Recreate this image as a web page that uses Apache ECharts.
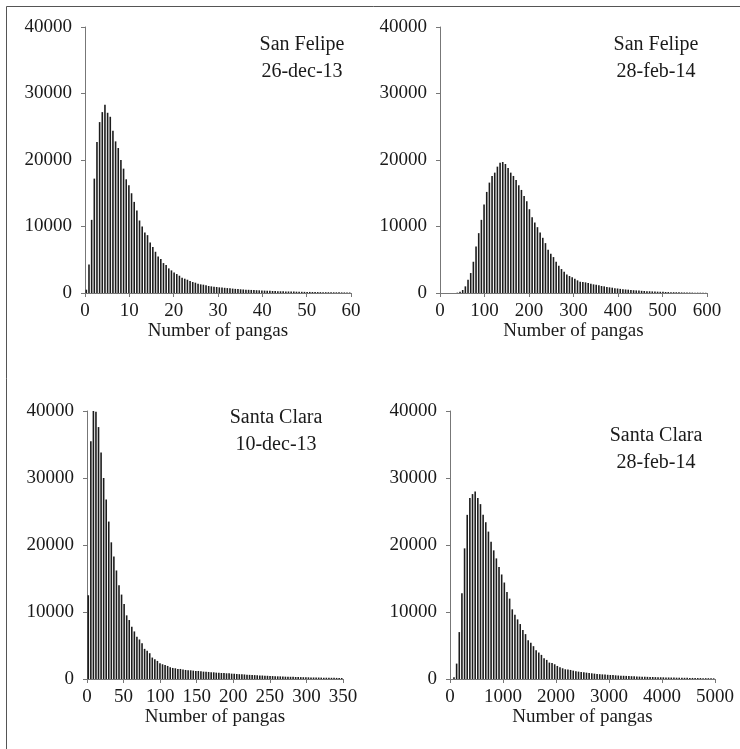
<!DOCTYPE html>
<html lang="en">
<head>
<meta charset="UTF-8">
<title>Pangas histograms</title>
<script src="https://cdn.jsdelivr.net/npm/echarts@6/dist/echarts.min.js"></script>
<style>
  html, body { margin: 0; padding: 0; background: #fff; }
  #main { width: 740px; height: 749px; }
</style>
</head>
<body>
<div id="main"></div>
<script type="text/javascript">
// bin widths (number of pangas per bar)
var binSF1 = 0.6;
var binSF2 = 6;
var binSC1 = 3.5;
var binSC2 = 50;

// San Felipe 26-dec-13
var sanFelipeDec = [
  500, 4300, 11000, 17200, 22700, 25700, 27200, 28300, 27100, 26500,
  24400, 22800, 21800, 20000, 18700, 17100, 16200, 15000, 13700, 12400,
  10900, 10000, 9100, 8700, 7600, 6900, 6200, 5500, 5100, 4500,
  4200, 3700, 3400, 3100, 2850, 2600, 2300, 2150, 2000, 1800,
  1650, 1550, 1400, 1300, 1250, 1150, 1050, 1000, 950, 900,
  850, 820, 780, 740, 700, 660, 620, 590, 560, 530,
  500, 480, 460, 440, 420, 400, 380, 360, 340, 320,
  305, 290, 275, 260, 250, 240, 230, 220, 210, 200,
  190, 180, 170, 165, 160, 150, 145, 140, 130, 125,
  120, 115, 110, 105, 100, 95, 90, 85, 80, 75
];

// San Felipe 28-feb-14
var sanFelipeFeb = [
  0, 0, 0, 0, 0, 0, 50, 200, 450, 1000,
  2000, 3000, 4700, 7000, 9000, 11000, 13300, 15200, 16600, 17600,
  18100, 19000, 19600, 19700, 19400, 18800, 18100, 17600, 17000, 16200,
  15500, 14600, 13800, 12600, 11400, 10600, 9900, 9100, 8300, 7500,
  6500, 5900, 5400, 4700, 4100, 3600, 3200, 2800, 2550, 2350,
  2150, 1900, 1700, 1650, 1600, 1500, 1400, 1300, 1250, 1150,
  1050, 1000, 900, 850, 800, 720, 680, 620, 580, 530,
  500, 460, 420, 390, 360, 330, 300, 280, 260, 240,
  220, 200, 185, 170, 155, 140, 130, 120, 110, 100,
  90, 80, 75, 70, 60, 55, 50, 45, 40, 30
];

// Santa Clara 10-dec-13
var santaClaraDec = [
  12500, 35500, 40000, 39900, 37600, 33800, 30000, 26800, 23500, 20400,
  18300, 16200, 14000, 12600, 11200, 9500, 8800, 7800, 7100, 6300,
  5900, 5350, 4500, 4200, 3850, 3200, 2950, 2700, 2350, 2200,
  2100, 1950, 1750, 1650, 1600, 1500, 1500, 1400, 1350, 1300,
  1300, 1250, 1200, 1200, 1150, 1100, 1100, 1050, 1000, 1000,
  950, 950, 900, 900, 850, 850, 800, 780, 750, 720,
  700, 680, 650, 620, 600, 580, 560, 540, 520, 500,
  480, 460, 440, 420, 400, 390, 370, 350, 340, 330,
  320, 300, 290, 280, 270, 260, 250, 240, 230, 225,
  220, 210, 200, 195, 190, 180, 170, 165, 160, 150
];

// Santa Clara 28-feb-14
var santaClaraFeb = [
  0, 250, 2300, 7000, 12800, 19500, 24500, 27000, 27600, 28000,
  27000, 26100, 24500, 23400, 22000, 20500, 19200, 18000, 16700, 15600,
  14400, 13000, 12000, 10400, 9600, 8900, 8200, 7300, 6700, 5800,
  5400, 4900, 4300, 3950, 3600, 3100, 2850, 2450, 2400, 2200,
  1950, 1750, 1600, 1450, 1400, 1350, 1250, 1150, 1100, 1050,
  1000, 950, 900, 850, 800, 760, 720, 690, 660, 630,
  600, 580, 550, 520, 500, 480, 460, 440, 420, 400,
  380, 360, 350, 340, 320, 310, 300, 280, 270, 260,
  250, 240, 230, 220, 210, 200, 195, 190, 180, 170,
  165, 160, 150, 145, 140, 130, 125, 120, 110, 100
];

var titlesTop = ['San Felipe', 'San Felipe', 'Santa Clara', 'Santa Clara'];
var titlesBottom = ['26-dec-13', '28-feb-14', '10-dec-13', '28-feb-14'];
var xMax = [60, 600, 350, 5000];
var xStep = [10, 100, 50, 1000];

var FONT = '"Liberation Serif", "Times New Roman", serif';
var ink = '#1a1a1a';

function toBins(values, w) {
  return values.map(function (v, i) { return [(i + 0.5) * w, v]; });
}
function plain(v) { return String(v); }

var grids = [
  { left: 85, top: 27, width: 266, height: 266 },
  { left: 440, top: 27, width: 267, height: 266 },
  { left: 87, top: 411, width: 256, height: 268 },
  { left: 450, top: 411, width: 265, height: 268 }
];

var xAxes = grids.map(function (g, k) {
  return {
    type: 'value', gridIndex: k, min: 0, max: xMax[k], interval: xStep[k],
    name: 'Number of pangas', nameLocation: 'middle', nameGap: 28,
    nameTextStyle: { fontFamily: FONT, fontSize: 19, color: ink },
    axisLine: { show: true, lineStyle: { color: '#777', width: 1 } },
    axisTick: { show: true, length: 4, lineStyle: { color: '#777' } },
    axisLabel: { fontFamily: FONT, fontSize: 19, color: ink, margin: 9, formatter: plain },
    splitLine: { show: false }
  };
});

var yAxes = grids.map(function (g, k) {
  return {
    type: 'value', gridIndex: k, min: 0, max: 40000, interval: 10000,
    axisLine: { show: true, lineStyle: { color: '#777', width: 1 } },
    axisTick: { show: true, length: 4, lineStyle: { color: '#777' } },
    axisLabel: { fontFamily: FONT, fontSize: 19, color: ink, margin: 13, formatter: plain },
    splitLine: { show: false }
  };
});

var allData = [
  toBins(sanFelipeDec, binSF1),
  toBins(sanFelipeFeb, binSF2),
  toBins(santaClaraDec, binSC1),
  toBins(santaClaraFeb, binSC2)
];

var series = allData.map(function (d, k) {
  return {
    type: 'bar', xAxisIndex: k, yAxisIndex: k, data: d,
    barWidth: 1.6, itemStyle: { color: '#1c1c1c' },
    silent: true, animation: false
  };
});

// title positions
var titleX = [302, 656, 276, 656];
var titleY = [45, 45, 418, 436];
var texts = [];
titleX.forEach(function (x, k) {
  texts.push({ type: 'text', x: x, y: titleY[k], style: { text: titlesTop[k], align: 'center', verticalAlign: 'middle', fontSize: 20, fontFamily: FONT, fill: ink } });
  texts.push({ type: 'text', x: x, y: titleY[k] + 27, style: { text: titlesBottom[k], align: 'center', verticalAlign: 'middle', fontSize: 20, fontFamily: FONT, fill: ink } });
});
// frame
texts.push({ type: 'rect', shape: { x: 6.5, y: 6.5, width: 800, height: 800 }, style: { fill: 'none', stroke: '#555', lineWidth: 1 }, silent: true });

var myChart = echarts.init(document.getElementById('main'), null, { renderer: 'canvas' });
myChart.setOption({
  backgroundColor: '#fff',
  animation: false,
  grid: grids,
  xAxis: xAxes,
  yAxis: yAxes,
  series: series,
  graphic: texts
});
</script>
</body>
</html>
